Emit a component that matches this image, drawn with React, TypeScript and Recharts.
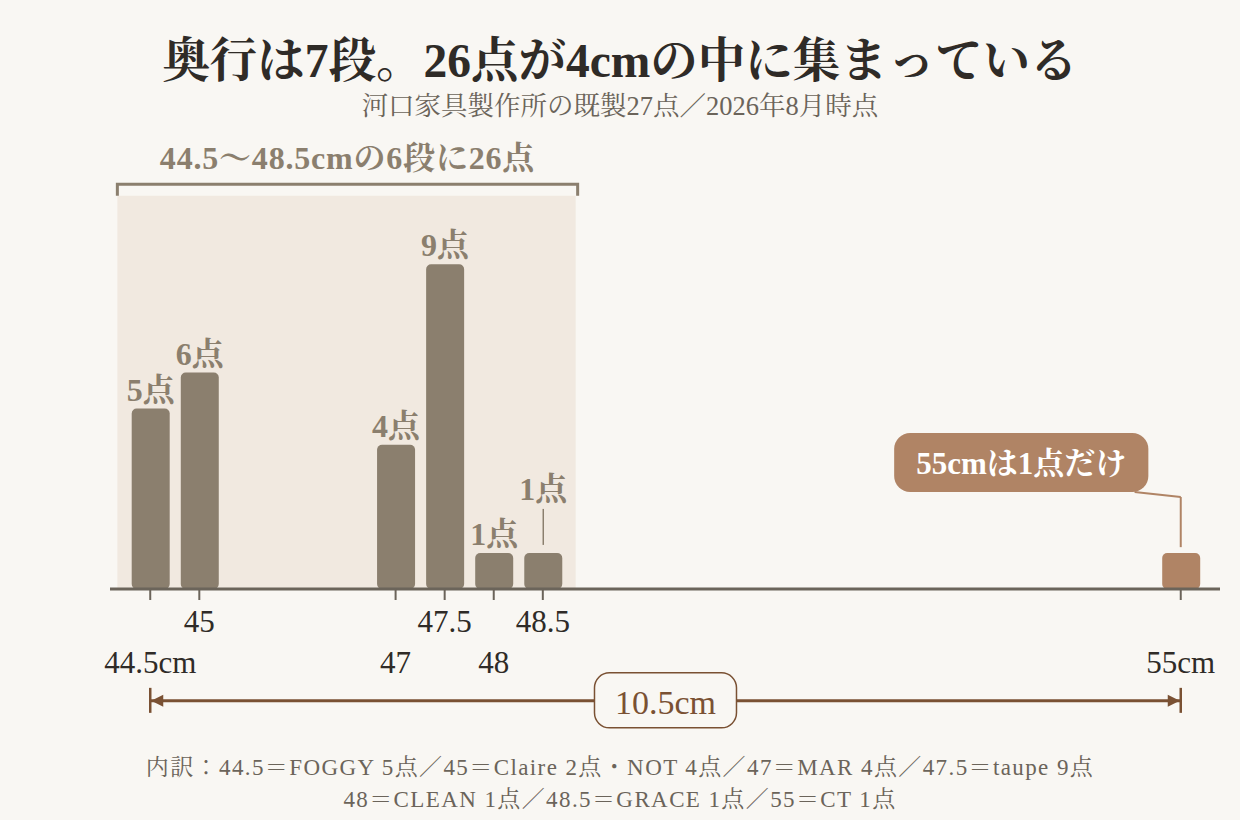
import {
  ComposedChart,
  Bar,
  XAxis,
  YAxis,
  Cell,
  LabelList,
  ReferenceArea,
  ReferenceLine,
} from 'recharts'

const DEPTHS = [44.5, 45, 47, 47.5, 48, 48.5, 55]
const COUNTS = [5, 6, 4, 9, 1, 1, 1]
const TICKS = [44.5, 45, 47, 47.5, 48, 48.5, 55]
const TICK_LABELS = ['44.5cm', '45', '47', '47.5', '48', '48.5', '55cm']
const LOWER_ROW = [44.5, 47, 48, 55]
const CLUSTER_FROM = 44.5
const CLUSTER_TO = 48.5
const OUTLIER = 55
const RAISED = [48.5]

const TITLE = '奥行は7段。26点が4cmの中に集まっている'
const SUBTITLE = '河口家具製作所の既製27点／2026年8月時点'
const CLUSTER_NOTE = '44.5〜48.5cmの6段に26点'
const OUTLIER_NOTE = '55cmは1点だけ'
const SPAN_NOTE = '10.5cm'
const FOOTER = [
  '内訳：44.5＝FOGGY 5点／45＝Claire 2点・NOT 4点／47＝MAR 4点／47.5＝taupe 9点',
  '48＝CLEAN 1点／48.5＝GRACE 1点／55＝CT 1点',
]

const FONT = '"Liberation Serif", "Noto Serif CJK JP", "Noto Sans CJK JP", serif'
const BG = '#f9f7f3'
const BAND = '#f1e9e0'
const BAR = '#8b7f6e'
const ACCENT = '#b08465'
const AXIS = '#6b645a'
const INK = '#2f2b27'
const SPAN_INK = '#7a5133'

const rows = DEPTHS.map((d, i) => ({ depth: d, count: COUNTS[i] }))

function AxisTick({ x, y, payload }: any) {
  const v = payload.value
  const i = TICKS.indexOf(v)
  const lower = LOWER_ROW.includes(v)
  return (
    <text
      x={x}
      y={y + (lower ? 71 : 30)}
      textAnchor="middle"
      fontSize={31}
      fill={INK}
      fontFamily={FONT}
    >
      {TICK_LABELS[i]}
    </text>
  )
}

function ValueLabel(p: any) {
  const vb = p.viewBox || p
  const x = vb.x ?? p.x
  const y = vb.y ?? p.y
  const w = vb.width ?? p.width
  const depth = DEPTHS[p.index]
  if (depth === OUTLIER) return null
  const cx = x + w / 2
  const raised = RAISED.includes(depth)
  if (raised) {
    return (
      <g>
        <line x1={cx} y1={y - 44} x2={cx} y2={y - 8} stroke={BAR} strokeWidth={1.5} />
        <text x={cx} y={y - 53} textAnchor="middle" fontSize={32} fontWeight={700} fill={BAR} fontFamily={FONT}>
          {`${p.value}点`}
        </text>
      </g>
    )
  }
  return (
    <text x={cx} y={y - 8} textAnchor="middle" fontSize={32} fontWeight={700} fill={BAR} fontFamily={FONT}>
      {`${p.value}点`}
    </text>
  )
}

function Bracket({ x, y, width, height }: any) {
  return (
    <g>
      <path
        d={`M${x},${y + height} V${y} H${x + width} V${y + height}`}
        fill="none"
        stroke={BAR}
        strokeWidth={3}
      />
      <text
        x={x + width / 2}
        y={y - 15}
        textAnchor="middle"
        fontSize={32}
        letterSpacing={0.8}
        fontWeight={700}
        fill={BAR}
        fontFamily={FONT}
      >
        {CLUSTER_NOTE}
      </text>
    </g>
  )
}

function Callout({ x, y, width, height }: any) {
  return (
    <g>
      <rect x={x} y={y} width={width} height={height} rx={16} fill={ACCENT} />
      <text
        x={x + width / 2}
        y={y + height / 2 + 11}
        textAnchor="middle"
        fontSize={31}
        fontWeight={700}
        fill="#ffffff"
        fontFamily={FONT}
      >
        {OUTLIER_NOTE}
      </text>
    </g>
  )
}

function Dimension({ x1, y1, x2 }: any) {
  const mid = (x1 + x2) / 2
  return (
    <g>
      <line x1={x1} y1={y1} x2={x2} y2={y1} stroke={SPAN_INK} strokeWidth={3} />
      <line x1={x1} y1={y1 - 13} x2={x1} y2={y1 + 12} stroke={SPAN_INK} strokeWidth={2.5} />
      <line x1={x2} y1={y1 - 13} x2={x2} y2={y1 + 12} stroke={SPAN_INK} strokeWidth={2.5} />
      <path d={`M${x1 + 1},${y1} L${x1 + 13},${y1 - 6} L${x1 + 13},${y1 + 6} Z`} fill={SPAN_INK} />
      <path d={`M${x2 - 1},${y1} L${x2 - 13},${y1 - 6} L${x2 - 13},${y1 + 6} Z`} fill={SPAN_INK} />
      <rect x={mid - 71} y={y1 - 28} width={142} height={55} rx={15} fill={BG} stroke={SPAN_INK} strokeWidth={1.5} />
      <text x={mid} y={y1 + 13} textAnchor="middle" fontSize={34} fill={SPAN_INK} fontFamily={FONT}>
        {SPAN_NOTE}
      </text>
    </g>
  )
}

export default function App() {
  const pad = 0.335
  return (
    <div style={{ position: 'relative', width: 1240, height: 820, background: BG, fontFamily: FONT, overflow: 'hidden' }}>
      <style>{'body{margin:0}'}</style>
      <div style={{ position: 'absolute', top: 35, left: 0, width: 1240, textAlign: 'center', fontSize: 47.5, lineHeight: '52px', fontWeight: 700, color: INK }}>
        {TITLE}
      </div>
      <div style={{ position: 'absolute', top: 91, left: 0, width: 1240, textAlign: 'center', fontSize: 26.5, lineHeight: '30px', color: AXIS }}>
        {SUBTITLE}
      </div>
      <div style={{ position: 'absolute', top: 0, left: 0 }}>
        <ComposedChart
          width={1240}
          height={820}
          data={rows}
          margin={{ top: 156, right: 20, bottom: 151, left: 110 }}
        >
          <ReferenceArea
            x1={CLUSTER_FROM - pad}
            x2={CLUSTER_TO + pad}
            y1={0}
            y2={10.9}
            fill={BAND}
            fillOpacity={1}
            stroke="none"
            ifOverflow="visible"
          />
          <ReferenceArea
            x1={CLUSTER_FROM - pad}
            x2={CLUSTER_TO + pad + 0.02}
            y1={10.9}
            y2={11.22}
            ifOverflow="visible"
            shape={Bracket}
          />
          <XAxis
            dataKey="depth"
            type="number"
            domain={[44.09, 55.4]}
            ticks={TICKS}
            interval={0}
            allowDataOverflow
            height={80}
            tick={AxisTick}
            tickSize={11}
            tickLine={{ stroke: AXIS, strokeWidth: 2 }}
            axisLine={{ stroke: AXIS, strokeWidth: 3 }}
          />
          <YAxis hide domain={[0, 12]} type="number" />
          <Bar dataKey="count" barSize={38} radius={[5, 5, 5, 5]} isAnimationActive={false}>
            {rows.map((r) => (
              <Cell key={r.depth} fill={r.depth === OUTLIER ? ACCENT : BAR} />
            ))}
            <LabelList dataKey="count" content={ValueLabel} />
          </Bar>
          <ReferenceArea
            x1={52.08}
            x2={54.67}
            y1={2.69}
            y2={4.32}
            ifOverflow="visible"
            shape={Callout}
          />
          <ReferenceLine
            segment={[{ x: 54.53, y: 2.69 }, { x: OUTLIER, y: 2.55 }]}
            stroke={ACCENT}
            strokeWidth={2}
            ifOverflow="visible"
          />
          <ReferenceLine
            segment={[{ x: OUTLIER, y: 2.55 }, { x: OUTLIER, y: 1.16 }]}
            stroke={ACCENT}
            strokeWidth={2}
            ifOverflow="visible"
          />
          <ReferenceLine
            segment={[{ x: CLUSTER_FROM, y: -3.1 }, { x: OUTLIER, y: -3.1 }]}
            ifOverflow="visible"
            shape={Dimension}
          />
        </ComposedChart>
      </div>
      <div style={{ position: 'absolute', top: 752, left: 0, width: 1240, textAlign: 'center', fontSize: 23, letterSpacing: 1.4, lineHeight: '32px', color: AXIS }}>
        {FOOTER.map((l) => (
          <div key={l}>{l}</div>
        ))}
      </div>
    </div>
  )
}
